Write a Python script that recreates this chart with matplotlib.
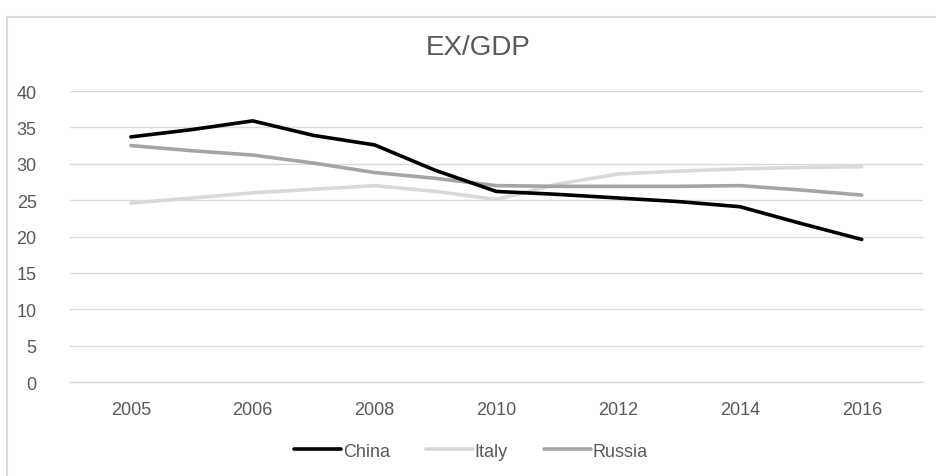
import matplotlib
matplotlib.use("Agg")
import matplotlib.pyplot as plt
from matplotlib.patches import Rectangle

# category slots: labelled years with an unlabelled point between each pair
years = ["2005", "", "2006", "", "2008", "", "2010", "", "2012", "", "2014", "", "2016"]
china = [33.7, 34.7, 35.9, 33.9, 32.6, 29.1, 26.2, 25.8, 25.3, 24.8, 24.1, 21.8, 19.6]
italy = [24.6, 25.3, 26.0, 26.5, 27.0, 26.2, 25.1, 27.2, 28.6, 29.0, 29.3, 29.5, 29.6]
russia = [32.5, 31.8, 31.2, 30.1, 28.8, 28.0, 27.0, 26.9, 26.9, 26.9, 27.0, 26.4, 25.7]

plt.rcParams['font.family'] = ['Liberation Sans', 'DejaVu Sans']

fig = plt.figure(figsize=(9.37, 4.77), dpi=100)
ax = fig.add_axes([0.0747, 0.197, 0.910, 0.610])

x = list(range(len(years)))
ax.plot(x, italy, color='#d9d9d9', lw=2.6, label='Italy', solid_capstyle='round')
ax.plot(x, russia, color='#a5a5a5', lw=2.6, label='Russia', solid_capstyle='round')
ax.plot(x, china, color='black', lw=2.6, label='China', solid_capstyle='round')

ax.set_xlim(-1, len(years))
ax.set_ylim(0, 40)
ax.set_yticks(range(0, 41, 5))
ax.set_xticks(x[::2])
ax.set_xticklabels([y for y in years if y])
ax.grid(axis='y', color='#d9d9d9', lw=1)
ax.axhline(0, color='#d9d9d9', lw=1, clip_on=False, zorder=0)
ax.set_axisbelow(True)
for s in ax.spines.values():
    s.set_visible(False)
ax.tick_params(length=0, labelsize=13, colors='#595959', pad=14)
ax.tick_params(axis='y', pad=24)

fig.text(0.51, 0.9, 'EX/GDP', ha='center', va='center', fontsize=20, color='#595959')

h, l = ax.get_legend_handles_labels()
order = [2, 0, 1]
ax.legend([h[i] for i in order], [l[i] for i in order], loc='center',
          bbox_to_anchor=(0.47, -0.238), ncol=3, frameon=False,
          fontsize=13, labelcolor='#595959', handlelength=2.6, handletextpad=0.1,
          columnspacing=2.0)

fig.patches.append(Rectangle((0.008, -0.01), 1.1, 0.973, transform=fig.transFigure,
                             fill=False, ec='#d9d9d9', lw=1.5))

fig.savefig('out.png', dpi=100)
